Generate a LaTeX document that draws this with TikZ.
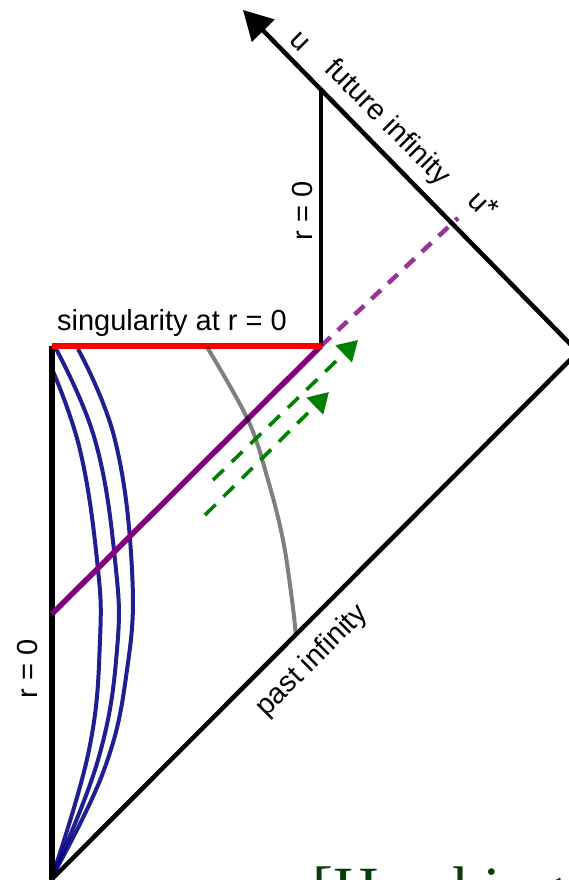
\documentclass[tikz,border=0pt]{standalone}
\usepackage{fontspec}
\setmainfont{Liberation Sans}
\newfontfamily\hawkfont{Liberation Serif}
\usetikzlibrary{arrows.meta}
\definecolor{hawkgreen}{RGB}{10,60,10}
\definecolor{horizonpurple}{RGB}{128,0,128}
\definecolor{navyblue}{RGB}{0,0,128}
\definecolor{darkgreen}{RGB}{0,128,0}
\begin{document}
\begin{tikzpicture}[x=1pt,y=-1pt,
  bnd/.style={line width=4.5pt, black},
  lbl/.style={font=\fontsize{29}{32}\selectfont, inner sep=0pt},
  curveblue/.style={line width=4pt, draw=navyblue, draw opacity=0.88},
  gdash/.style={line width=3.6pt, draw=darkgreen, dash pattern=on 15pt off 11pt},
  pdash/.style={line width=4.5pt, draw=horizonpurple, draw opacity=0.8, dash pattern=on 13pt off 10pt},
  ]
\useasboundingbox (0,0) rectangle (569,880);
% corners
\coordinate (A) at (52,879);
\coordinate (Abot) at (52,884);
\coordinate (B) at (52,346);
\coordinate (C) at (321,346);
\coordinate (D) at (321,89.6);
\coordinate (E) at (578,352);
\coordinate (T) at (243,10);
\coordinate (P) at (52,614);
\coordinate (Q) at (458,218);
% blue curves
\draw[curveblue] plot[smooth, tension=0.7] coordinates {(52,369) (80,450) (97,560) (100,640) (89,750) (52,877)};
\draw[curveblue] plot[smooth, tension=0.7] coordinates {(55,347) (95,440) (115,560) (117,650) (98,760) (52,877)};
\draw[curveblue] plot[smooth, tension=0.7] coordinates {(78,349) (115,440) (132,570) (127,670) (104,770) (52,877)};
% boundaries
\draw[line width=6.5pt] (B) -- (Abot);
\draw[bnd] (A) -- (E);
\draw[bnd, -{Triangle[length=29pt,width=31pt]}] (E) -- (T);
\draw[line width=4pt] (C) -- (D);
% purple horizon
\draw[line width=5.5pt, horizonpurple] (P) -- (C);
\draw[pdash] (C) -- (Q);
% red singularity
\draw[line width=5.5pt, red] (B) -- (C);
% gray curve
\draw[line width=4pt, black, draw opacity=0.5] plot[smooth, tension=0.6] coordinates {(207,347) (248,420) (268,480) (283,540) (292,600) (296,636)};
% green arrows
\coordinate (G1s) at (213,480);
\coordinate (G1e) at (358,340);
\coordinate (G2s) at (205,515);
\coordinate (G2e) at (329,392);
\draw[gdash, -{Triangle[length=20pt,width=23pt]}] (G1s) -- (G1e);
\draw[gdash, -{Triangle[length=20pt,width=23pt]}] (G2s) -- (G2e);
% labels
\node[lbl, rotate=-45] (ulab) at (300,42) {u};
\node[lbl, rotate=-45] (fut) at (387,123) {future infinity};
\node[lbl, rotate=-45] (ustar) at (484,204) {u\raisebox{0.12em}{*}};
\node[lbl, rotate=90] (r0a) at (303,211) {r = 0};
\node[lbl, rotate=90] (r0b) at (28,669) {r = 0};
\node[lbl] (sing) at (172,323) {singularity at r = 0};
\node[lbl, rotate=45] (past) at (312,661) {past infinity};
\node[inner sep=0pt, anchor=base west, text=hawkgreen, font=\hawkfont\fontsize{63}{70}\selectfont] (hawk) at (312,910) {[Hawking};
\end{tikzpicture}
\end{document}
